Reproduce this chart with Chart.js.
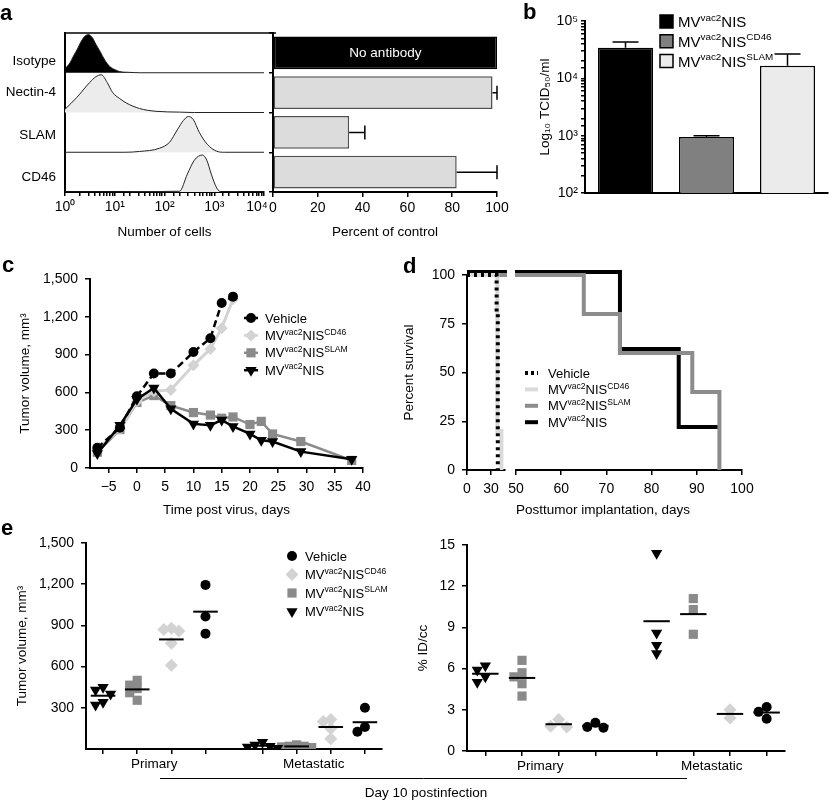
<!DOCTYPE html>
<html>
<head>
<meta charset="utf-8">
<title>MV-NIS receptor retargeting</title>
<script src="https://cdn.jsdelivr.net/npm/chart.js@4.4.1/dist/chart.umd.min.js"></script>
<style>
  body { margin: 0; background: #fff; }
  #fig { position: relative; width: 830px; height: 801px; overflow: hidden; font-family: 'Liberation Sans', Arial, sans-serif; }
  #fig canvas { position: absolute; }
  .tag { position: absolute; font-weight: bold; font-size: 22px; line-height: 22px; }
</style>
</head>
<body>
<div id="fig">
  <canvas id="a1" width="295" height="230" style="left:0;top:20px"></canvas>
  <canvas id="a2" width="265" height="230" style="left:265px;top:20px"></canvas>
  <canvas id="b" width="300" height="250" style="left:530px;top:0"></canvas>
  <canvas id="c" width="405" height="270" style="left:0;top:255px"></canvas>
  <canvas id="d1" width="109" height="270" style="left:401px;top:255px"></canvas>
  <canvas id="d2" width="330" height="270" style="left:500px;top:255px"></canvas>
  <canvas id="e1" width="830" height="276" style="left:0;top:525px"></canvas>
  <canvas id="e2" width="420" height="276" style="left:410px;top:525px"></canvas>
  <div class="tag" style="left:0;top:2px">a</div>
  <div class="tag" style="left:523px;top:1px">b</div>
  <div class="tag" style="left:2px;top:254px">c</div>
  <div class="tag" style="left:403px;top:255px">d</div>
  <div class="tag" style="left:1px;top:517px">e</div>
</div>
<script>
// ---- a: flow histograms (x = fluorescence, h = relative cell count) ----
const markers = ['Isotype', 'Nectin-4', 'SLAM', 'CD46'];
const isoX = [1, 1.26, 1.48, 1.78, 2.14, 2.51, 2.95, 3.55, 4.17, 5, 6.3, 7.9, 10, 12.6, 20, 32, 10000];
const isoH = [0.1, 0.25, 0.42, 0.6, 0.8, 0.92, 0.96, 0.88, 0.72, 0.55, 0.32, 0.16, 0.08, 0.03, 0.01, 0, 0];
const nectinX = [1, 1.7, 3.16, 4.17, 5.37, 7.08, 9.1, 12.6, 17, 31.6, 67.6, 200, 400, 10000];
const nectinH = [0.08, 0.37, 0.76, 0.9, 0.95, 0.75, 0.5, 0.35, 0.24, 0.1, 0.03, 0.01, 0, 0];
const slamX = [1, 16, 31.6, 79, 126, 182, 240, 302, 380, 501, 724, 1096, 1585, 10000];
const slamH = [0, 0, 0.02, 0.1, 0.25, 0.57, 0.8, 0.9, 0.82, 0.5, 0.2, 0.03, 0, 0];
const cd46X = [1, 200, 288, 398, 575, 708, 871, 1122, 1413, 10000];
const cd46H = [0, 0.02, 0.45, 0.8, 0.93, 0.8, 0.45, 0.1, 0, 0];

// a: receptor blocking, percent of control
const blockPct = [100, 98, 34, 82];
const blockErr = [0, 2, 7, 18];
const blockNote = ['No antibody', '', '', ''];

// ---- b: titers ----
const viruses = ['MV^{vac2}NIS', 'MV^{vac2}NIS^{CD46}', 'MV^{vac2}NIS^{SLAM}'];
const titer = [34000, 950, 16500];
const titerErr = [9000, 50, 10000];

// ---- c: tumor growth ----
const groups = ['Vehicle', 'MV^{vac2}NIS^{CD46}', 'MV^{vac2}NIS^{SLAM}', 'MV^{vac2}NIS'];
const daysShort = [-7, -3, 0, 3, 6, 10, 13, 15, 17];
const daysLong = [-7, -3, 0, 3, 6, 10, 13, 15, 17, 20, 22, 24, 29, 38];
const volVehicle = [160, 320, 570, 750, 750, 920, 1030, 1310, 1360];
const volCD46 = [150, 310, 530, 610, 620, 815, 945, 1110, 1340];
const volSLAM = [125, 305, 520, 575, 495, 440, 420, 395, 405, 345, 370, 270, 210, 60];
const volMV = [115, 340, 545, 635, 470, 350, 340, 380, 330, 270, 220, 210, 130, 70];

// ---- d: survival ----
const kmVehicleT = [0, 37, 38.5], kmVehicleS = [100, 80, 0];
const kmCD46T = [0, 38, 43], kmCD46S = [100, 20, 0];
const kmSLAMT = [0, 65, 73, 89, 95], kmSLAMS = [100, 80, 60, 40, 0];
const kmMVT = [0, 73, 86, 95], kmMVS = [101.5, 62, 22, 22];

// ---- e: day 10 tumor volume (mm3) and uptake (%ID/cc) ----
const eGroupNames = ['Primary', 'Metastatic'];
const tvPrimMV = [450, 400, 430, 320, 340], tvMetMV = [30, 15, 50, 5, 20];
const tvPrimSLAM = [500, 465, 440, 410, 355], tvMetSLAM = [30, 20, 10, 15, 20];
const tvPrimCD46 = [880, 860, 870, 770, 610], tvMetCD46 = [215, 200, 150, 75];
const tvPrimVeh = [1195, 965, 840], tvMetVeh = [300, 125, 160];
const idPrimMV = [6.2, 5.9, 5.4, 5.0], idMetMV = [14.4, 8.6, 7.7, 7.1];
const idPrimSLAM = [6.6, 5.7, 5.4, 4.9, 4.0], idMetSLAM = [11.1, 10.3, 8.5];
const idPrimCD46 = [2.3, 1.8, 1.75], idMetCD46 = [3.0, 2.4];
const idPrimVeh = [2.05, 1.75, 1.7], idMetVeh = [3.2, 2.85, 2.35];

// ---------------------------------------------------------------
const FONT = "'Liberation Sans', Arial, Helvetica, sans-serif";
Chart.defaults.font.family = FONT;
Chart.defaults.font.size = 14;
Chart.defaults.color = '#000';
Chart.defaults.animation = false;
Chart.defaults.responsive = false;
Chart.defaults.events = [];
Chart.defaults.plugins.legend.display = false;
Chart.defaults.plugins.tooltip.enabled = false;

const groupColor = ['#000', '#d3d3d3', '#8a8a8a', '#000'];
const groupMark = ['circle', 'rectRot', 'rect', 'triangleDown'];
const SUP = '\u2070\u00b9\u00b2\u00b3\u2074\u2075';

function decade(v) {
  const l = Math.log10(v), e = Math.round(l);
  return Math.abs(l - e) < 1e-6 ? '10' + SUP[e] : '';
}
const minus = v => v < 0 ? '\u2212' + (-v) : String(v);

function ax(o) {
  const base = {
    border: {color: '#000', width: 2},
    grid: {drawOnChartArea: false, color: '#000', lineWidth: 1.5, tickLength: 5},
    ticks: {color: '#000', font: {size: 14}, padding: 4, maxRotation: 0, autoSkip: false}
  };
  for (const k in o) {
    const v = o[k];
    base[k] = (v && typeof v === 'object' && !Array.isArray(v) && base[k]) ? Object.assign({}, base[k], v) : v;
  }
  return base;
}
const title = (text, pad, extra) => Object.assign({display: true, text, font: {size: 13.5}, padding: pad}, extra || {});
const tickList = vals => s => { s.ticks = vals.map(v => ({value: v})); };

function richParts(s) {
  const parts = [], re = /\^\{([^}]*)\}/g;
  let last = 0, m;
  while ((m = re.exec(s))) {
    if (m.index > last) parts.push({t: s.slice(last, m.index), sup: false});
    parts.push({t: m[1], sup: true});
    last = re.lastIndex;
  }
  if (last < s.length) parts.push({t: s.slice(last), sup: false});
  return parts;
}
function drawRich(ctx, s, x, yMid, size) {
  const base = yMid + size * 0.36;
  ctx.textAlign = 'left';
  ctx.textBaseline = 'alphabetic';
  for (const p of richParts(s)) {
    ctx.font = (p.sup ? size * 0.66 : size) + 'px ' + FONT;
    ctx.fillText(p.t, x, p.sup ? base - size * 0.42 : base);
    x += ctx.measureText(p.t).width;
  }
}
function drawMark(ctx, style, x, y, r, color) {
  ctx.save();
  ctx.fillStyle = color;
  ctx.beginPath();
  if (style === 'circle') ctx.arc(x, y, r, 0, Math.PI * 2);
  else if (style === 'rect') { const h = r * Math.SQRT1_2; ctx.rect(x - h, y - h, 2 * h, 2 * h); }
  else if (style === 'rectRot') { ctx.moveTo(x, y - r); ctx.lineTo(x + r, y); ctx.lineTo(x, y + r); ctx.lineTo(x - r, y); ctx.closePath(); }
  else if (style === 'triangleDown') {
    const s = Math.sin(Math.PI / 3) * r;
    ctx.moveTo(x, y + r); ctx.lineTo(x - s, y - r / 2); ctx.lineTo(x + s, y - r / 2); ctx.closePath();
  } else if (style === 'box') {
    ctx.rect(x - r, y - r, 2 * r, 2 * r);
    ctx.fill();
    ctx.lineWidth = 1.5; ctx.strokeStyle = '#000'; ctx.stroke();
    ctx.restore();
    return;
  }
  ctx.fill();
  ctx.restore();
}
function legendPlugin(cfg) {
  return {
    id: 'richLegend',
    afterDraw(chart) {
      const ctx = chart.ctx;
      ctx.save();
      cfg.names.forEach((n, i) => {
        const y = cfg.y + i * cfg.dy;
        if (cfg.line) {
          ctx.strokeStyle = cfg.colors[i];
          ctx.lineWidth = cfg.lineW;
          ctx.setLineDash(cfg.dashes && cfg.dashes[i] ? cfg.dashes[i] : []);
          ctx.beginPath(); ctx.moveTo(cfg.x - cfg.line, y); ctx.lineTo(cfg.x + cfg.line, y); ctx.stroke();
          ctx.setLineDash([]);
        }
        if (cfg.marks) drawMark(ctx, cfg.marks[i], cfg.x, y, cfg.markR[i], cfg.colors[i]);
        ctx.fillStyle = '#000';
        drawRich(ctx, n, cfg.tx, y, cfg.size);
      });
      ctx.restore();
    }
  };
}
const fix = (w, h) => s => { if (w != null) s.width = w; if (h != null) s.height = h; };

// ---------------- a: histograms ----------------
const histX = [isoX, nectinX, slamX, cd46X];
const histH = [isoH, nectinH, slamH, cd46H];
const rowBase = i => markers.length - 1 - i;
new Chart(document.getElementById('a1'), {
  type: 'line',
  data: {
    datasets: markers.map((m, i) => ({
      label: m,
      data: histX[i].map((x, k) => ({x, y: rowBase(i) + histH[i][k]})),
      fill: {value: rowBase(i)},
      backgroundColor: i === 0 ? '#000' : '#ececec',
      borderColor: '#222', borderWidth: 1, pointRadius: 0,
      cubicInterpolationMode: 'monotone'
    }))
  },
  options: {
    layout: {padding: {top: 13, right: 31, left: 0, bottom: 0}},
    scales: {
      x: ax({type: 'logarithmic', min: 1, max: 10000, afterFit: fix(null, 58),
        ticks: {callback: v => v === 10000 ? decade(v) + '\u2002\u2002' : decade(v), padding: 3}, grid: {tickLength: 4},
        title: title('Number of cells', {top: 0, bottom: 10})}),
      y: ax({min: 0, max: 4, afterFit: fix(65, null),
        afterBuildTicks: tickList([0.38, 1.43, 2.5, 3.3]),
        ticks: {callback: v => markers[3 - Math.floor(v)], padding: 4, font: {size: 13.5}},
        grid: {display: false}})
    }
  },
  plugins: [{
    id: 'boxTop',
    afterDraw(chart) {
      const {ctx, chartArea: a} = chart;
      ctx.save(); ctx.strokeStyle = '#000'; ctx.lineWidth = 1.5;
      ctx.beginPath(); ctx.moveTo(a.left - 1, a.top); ctx.lineTo(a.right + 12, a.top); ctx.stroke();
      ctx.restore();
    }
  }]
});

// ---------------- a: blocking bars ----------------
new Chart(document.getElementById('a2'), {
  type: 'bar',
  data: {
    labels: markers,
    datasets: [{
      data: blockPct,
      backgroundColor: blockPct.map((v, i) => i === 0 ? '#000' : '#dcdcdc'),
      borderColor: blockPct.map((v, i) => i === 0 ? '#000' : '#505050'),
      borderWidth: 1.5, borderSkipped: false, barPercentage: 0.83, categoryPercentage: 1
    }]
  },
  options: {
    indexAxis: 'y',
    layout: {padding: {top: 13, right: 33, left: 0, bottom: 0}},
    scales: {
      x: ax({min: 0, max: 100, afterFit: fix(null, 58), ticks: {stepSize: 20, padding: 3},
        title: title('Percent of control', {top: 0, bottom: 10})}),
      y: ax({afterFit: fix(8, null), ticks: {display: false}, grid: {offset: true, tickLength: 4}})
    }
  },
  plugins: [{
    id: 'errH',
    afterDatasetsDraw(chart) {
      const ctx = chart.ctx, xs = chart.scales.x;
      ctx.save(); ctx.strokeStyle = '#000'; ctx.lineWidth = 1.5;
      chart.getDatasetMeta(0).data.forEach((bar, i) => {
        if (blockErr[i]) {
          const x1 = xs.getPixelForValue(blockPct[i] + blockErr[i]);
          ctx.beginPath(); ctx.moveTo(bar.x, bar.y); ctx.lineTo(x1, bar.y);
          ctx.moveTo(x1, bar.y - 7); ctx.lineTo(x1, bar.y + 7); ctx.stroke();
        }
        if (blockNote[i]) {
          ctx.fillStyle = '#fff'; ctx.font = '13.5px ' + FONT;
          ctx.textAlign = 'center'; ctx.textBaseline = 'middle';
          ctx.fillText(blockNote[i], (bar.x + bar.base) / 2, bar.y);
        }
      });
      ctx.restore();
    }
  }]
});

// ---------------- b: titers ----------------
const virusColor = ['#000', '#808080', '#ebebeb'];
new Chart(document.getElementById('b'), {
  type: 'bar',
  data: {
    labels: viruses,
    datasets: [{data: titer, backgroundColor: virusColor, borderColor: '#000', borderWidth: 1.5,
      barPercentage: 0.68, categoryPercentage: 1}]
  },
  options: {
    layout: {padding: {top: 21, right: 2, left: 0, bottom: 0}},
    scales: {
      x: ax({afterFit: fix(null, 57), ticks: {display: false}, grid: {display: false}}),
      y: ax({type: 'logarithmic', min: 100, max: 100000, afterFit: fix(55, null),
        ticks: {callback: decade, padding: 3}, grid: {tickLength: 4},
        title: title('Log\u2081\u2080 TCID\u2085\u2080/ml', {top: 7, bottom: 0})})
    }
  },
  plugins: [{
    id: 'errV',
    afterDatasetsDraw(chart) {
      const ctx = chart.ctx, ys = chart.scales.y;
      ctx.save(); ctx.strokeStyle = '#000'; ctx.lineWidth = 1.5;
      chart.getDatasetMeta(0).data.forEach((bar, i) => {
        const y1 = ys.getPixelForValue(titer[i] + titerErr[i]);
        ctx.beginPath(); ctx.moveTo(bar.x, bar.y); ctx.lineTo(bar.x, y1);
        ctx.moveTo(bar.x - 13, y1); ctx.lineTo(bar.x + 13, y1); ctx.stroke();
      });
      ctx.restore();
    }
  }, legendPlugin({names: viruses, colors: virusColor, marks: ['box', 'box', 'box'], markR: [6.5, 6.5, 6.5],
    x: 136.5, tx: 148, y: 21.5, dy: 19.8, size: 15})]
});

// ---------------- c: tumor growth ----------------
const cX = [daysShort, daysShort, daysLong, daysLong];
const cY = [volVehicle, volCD46, volSLAM, volMV];
const cLine = [2.5, 3, 2.5, 2.5];
const cRad = [5, 6, 6.5, 6.5];
const cOrder = [0, 2, 3, 1];
const ptStyle = m => m === 'triangleDown' ? 'triangle' : m;
new Chart(document.getElementById('c'), {
  type: 'line',
  data: {
    datasets: groups.map((g, i) => ({
      label: g,
      data: cX[i].map((d, k) => ({x: d, y: cY[i][k]})),
      borderColor: groupColor[i], backgroundColor: groupColor[i],
      borderWidth: cLine[i], borderDash: i === 0 ? [7, 4] : [],
      pointStyle: ptStyle(groupMark[i]), pointRotation: groupMark[i] === 'triangleDown' ? 180 : 0,
      pointRadius: cRad[i], pointBorderWidth: 0, order: cOrder[i], fill: false
    }))
  },
  options: {
    layout: {padding: {top: 24, right: 42, left: 0, bottom: 0}},
    scales: {
      x: ax({type: 'linear', min: -8.3, max: 40, afterFit: fix(null, 57),
        afterBuildTicks: tickList([-5, 0, 5, 10, 15, 20, 25, 30, 35, 40]),
        ticks: {callback: minus, padding: 6},
        title: title('Time post virus, days', {top: 0, bottom: 7})}),
      y: ax({min: 0, max: 1500, afterFit: fix(90, null), ticks: {stepSize: 300, padding: 7},
        title: title('Tumor volume, mm\u00b3', {top: 17, bottom: 0})})
    }
  },
  plugins: [legendPlugin({names: groups, colors: groupColor, marks: groupMark, markR: [5, 6, 6.5, 6.5],
    line: 7, lineW: 2.5, x: 251, tx: 265, y: 63, dy: 17.4, size: 13})]
});

// ---------------- d: survival (broken axis = two charts) ----------------
const kmT = [kmVehicleT, kmCD46T, kmSLAMT, kmMVT];
const kmS = [kmVehicleS, kmCD46S, kmSLAMS, kmMVS];
const dColor = ['#000', '#dadada', '#8c8c8c', '#000'];
const kmSets = () => groups.map((g, i) => ({
  label: g,
  data: kmT[i].map((t, k) => ({x: t, y: kmS[i][k]})),
  stepped: true, borderColor: dColor[i], borderWidth: 4,
  borderDash: i === 0 ? [3, 4] : [], pointRadius: 0, fill: false,
  clip: {left: 1, right: 2, top: 8, bottom: 2}
}));
new Chart(document.getElementById('d1'), {
  type: 'line',
  data: {datasets: kmSets()},
  options: {
    layout: {padding: {top: 20, right: 5, left: 0, bottom: 0}},
    scales: {
      x: ax({type: 'linear', min: 0, max: 47.5, afterFit: fix(null, 55),
        afterBuildTicks: tickList([0, 30]), ticks: {padding: 6}}),
      y: ax({min: 0, max: 100, afterFit: fix(66, null), ticks: {stepSize: 25, padding: 7},
        title: title('Percent survival', {top: 0, bottom: 0})})
    }
  }
});
new Chart(document.getElementById('d2'), {
  type: 'line',
  data: {datasets: kmSets()},
  options: {
    layout: {padding: {top: 20, right: 88, left: 16, bottom: 0}},
    scales: {
      x: ax({type: 'linear', min: 50, max: 100, afterFit: fix(null, 55), ticks: {stepSize: 10, padding: 6},
        title: title('Posttumor implantation, days', {top: 0, bottom: 7}, {align: 'start'})}),
      y: {display: false, min: 0, max: 100}
    }
  },
  plugins: [legendPlugin({names: groups, colors: dColor, line: 6.5, lineW: 4, dashes: [[3, 3]],
    x: 31.5, tx: 48, y: 118, dy: 16.4, size: 13})]
});

// ---------------- e: day 10 dot plots ----------------
const groupGap = 1.67;
const eSeries = [3, 2, 1, 0]; // x order: MV, SLAM, CD46, Vehicle
const posOf = (g, s) => 1 + s + g * (3 + groupGap);
const eTicks = [0, 1].flatMap(g => [0, 1, 2, 3].map(s => posOf(g, s)));
const eCenters = [0, 1].map(g => posOf(g, 1.5));
const isCenter = v => eCenters.some(c => Math.abs(c - v) < 1e-6);
const eMarkR = {circle: 5, rectRot: 6.5, rect: 6.5, triangleDown: 6.5};

function swarm(vals, thresh) {
  const order = vals.map((v, i) => i).sort((a, b) => vals[b] - vals[a]);
  const off = vals.map(() => 0), placed = [];
  for (const i of order) {
    for (const c of [0, -0.22, 0.22, -0.44, 0.44]) {
      if (placed.every(j => Math.abs(vals[j] - vals[i]) >= thresh || Math.abs(off[j] - c) >= 0.2)) { off[i] = c; break; }
    }
    placed.push(i);
  }
  return off;
}
function dotSets(sets, thresh) {
  return eSeries.map((gi, s) => ({
    label: groups[gi],
    data: sets[s].flatMap((vals, g) => {
      const off = swarm(vals, thresh);
      return vals.map((v, k) => ({x: posOf(g, s) + off[k], y: v}));
    }),
    pointStyle: ptStyle(groupMark[gi]), pointRotation: groupMark[gi] === 'triangleDown' ? 180 : 0,
    pointRadius: eMarkR[groupMark[gi]], pointBorderWidth: 0,
    backgroundColor: groupColor[gi], borderColor: groupColor[gi]
  }));
}
function meanPlugin(sets) {
  return {
    id: 'means',
    afterDatasetsDraw(chart) {
      const {ctx, scales: {x, y}} = chart;
      ctx.save(); ctx.strokeStyle = '#000'; ctx.lineWidth = 2;
      sets.forEach((perGroup, s) => perGroup.forEach((vals, g) => {
        const m = vals.reduce((a, b) => a + b, 0) / vals.length, c = posOf(g, s), py = y.getPixelForValue(m);
        ctx.beginPath(); ctx.moveTo(x.getPixelForValue(c - 0.36), py); ctx.lineTo(x.getPixelForValue(c + 0.36), py); ctx.stroke();
      }));
      ctx.restore();
    }
  };
}
const eX = h => ax({type: 'linear', min: 0.5, max: 9.17, afterFit: fix(null, h),
  afterBuildTicks: tickList(eTicks.concat(eCenters).sort((a, b) => a - b)),
  ticks: {callback: v => { const k = eCenters.findIndex(c => Math.abs(c - v) < 1e-6); return k >= 0 ? eGroupNames[k] : ''; },
    padding: 2, font: {size: 13.5}},
  grid: {tickColor: c => isCenter(c.tick.value) ? 'rgba(0,0,0,0)' : '#000'}});

const tvSets = [[tvPrimMV, tvMetMV], [tvPrimSLAM, tvMetSLAM], [tvPrimCD46, tvMetCD46], [tvPrimVeh, tvMetVeh]];
const idSets = [[idPrimMV, idMetMV], [idPrimSLAM, idMetSLAM], [idPrimCD46, idMetCD46], [idPrimVeh, idMetVeh]];

new Chart(document.getElementById('e1'), {
  type: 'scatter',
  data: {datasets: dotSets(tvSets, 55)},
  options: {
    layout: {padding: {top: 18, right: 448, left: 0, bottom: 0}},
    scales: {
      x: eX(52),
      y: ax({min: 0, max: 1500, afterFit: fix(86, null), ticks: {stepSize: 300, padding: 7},
        afterBuildTicks: tickList([300, 600, 900, 1200, 1500]),
        title: title('Tumor volume, mm\u00b3', {top: 14, bottom: 0})})
    }
  },
  plugins: [meanPlugin(tvSets),
    legendPlugin({names: groups, colors: groupColor, marks: groupMark, markR: [5, 6.5, 6.5, 6.5],
      x: 292, tx: 305, y: 31, dy: 18.5, size: 13}),
    {
      id: 'day10',
      afterDraw(chart) {
        const ctx = chart.ctx;
        ctx.save(); ctx.strokeStyle = '#000'; ctx.lineWidth = 1;
        ctx.beginPath(); ctx.moveTo(160, 253.5); ctx.lineTo(687, 253.5); ctx.stroke();
        ctx.fillStyle = '#000'; ctx.font = '13.5px ' + FONT; ctx.textAlign = 'center'; ctx.textBaseline = 'middle';
        ctx.fillText('Day 10 postinfection', 426, 268);
        ctx.restore();
      }
    }]
});

new Chart(document.getElementById('e2'), {
  type: 'scatter',
  data: {datasets: dotSets(idSets, 0.55)},
  options: {
    layout: {padding: {top: 20, right: 45, left: 0, bottom: 0}},
    scales: {
      x: eX(50),
      y: ax({min: 0, max: 15, afterFit: fix(57, null), ticks: {stepSize: 3, padding: 7},
        title: title('% ID/cc', {top: 5, bottom: 0})})
    }
  },
  plugins: [meanPlugin(idSets)]
});
</script>
</body>
</html>
